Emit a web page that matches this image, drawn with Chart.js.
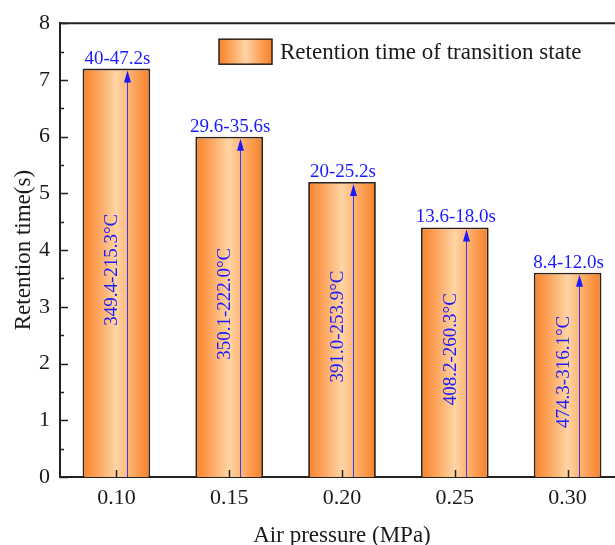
<!DOCTYPE html>
<html lang="en">
<head>
<meta charset="UTF-8">
<title>Retention time vs air pressure</title>
<script src="https://cdn.jsdelivr.net/npm/chart.js"></script>
<style>
  html, body { margin: 0; padding: 0; overflow: hidden; background: #fff; }
  canvas { display: block; }
</style>
</head>
<body>
<canvas id="chart" width="630" height="560" style="width:630px;height:560px"></canvas>
<script>
// Air pressure categories and measured retention time of the transition state
const pressures = ['0.10', '0.15', '0.20', '0.25', '0.30'];
const retention = [7.2, 6.0, 5.2, 4.4, 3.6];
const timeRanges = ['40-47.2s', '29.6-35.6s', '20-25.2s', '13.6-18.0s', '8.4-12.0s'];
const tempRanges = ['349.4-215.3°C', '350.1-222.0°C', '391.0-253.9°C', '408.2-260.3°C', '474.3-316.1°C'];
const seriesLabel = 'Retention time of transition state';

const SERIF = '"Liberation Serif", "Times New Roman", serif';
const INK = '#1a1a1a';
const BLUE = '#1a1aff';
const BAR_PCT = 0.6;

function barGradient(ctx, x0, x1) {
  const g = ctx.createLinearGradient(x0, 0, x1, 0);
  g.addColorStop(0, '#f7842c');
  g.addColorStop(0.18, '#fb9d52');
  g.addColorStop(0.5, '#ffd4a4');
  g.addColorStop(0.82, '#fb9c50');
  g.addColorStop(1, '#f6822a');
  return g;
}

// frame, inward ticks, arrows, range labels and legend
const overlay = {
  id: 'overlay',
  afterDraw(chart) {
    const { ctx, chartArea: a, scales: { x, y } } = chart;
    ctx.save();

    // top frame line
    ctx.strokeStyle = '#222';
    ctx.lineWidth = 2;
    ctx.beginPath();
    ctx.moveTo(a.left - 1, a.top);
    ctx.lineTo(a.right, a.top);
    ctx.stroke();

    // y ticks: major on integers, minor on halves, pointing inward
    ctx.lineWidth = 1.5;
    for (let v = y.min; v <= y.max; v += 0.5) {
      const py = Math.round(y.getPixelForValue(v)) + 0.5;
      const len = Number.isInteger(v) ? 8 : 4;
      ctx.beginPath();
      ctx.moveTo(a.left, py);
      ctx.lineTo(a.left + len, py);
      ctx.stroke();
    }
    // x ticks at category centres, pointing up
    pressures.forEach((_, i) => {
      const px = Math.round(x.getPixelForValue(i)) + 0.5;
      ctx.beginPath();
      ctx.moveTo(px, a.bottom);
      ctx.lineTo(px, a.bottom - 7);
      ctx.stroke();
    });

    const bars = chart.getDatasetMeta(0).data;
    bars.forEach((bar, i) => {
      // arrow from the base up to the bar top
      const ax = Math.round(bar.x + 11) + 0.5;
      const tip = bar.y + 2;
      ctx.strokeStyle = '#3a3ae8';
      ctx.fillStyle = BLUE;
      ctx.lineWidth = 1;
      ctx.beginPath();
      ctx.moveTo(ax, a.bottom);
      ctx.lineTo(ax, tip + 10);
      ctx.stroke();
      ctx.beginPath();
      ctx.moveTo(ax, tip);
      ctx.lineTo(ax - 3.5, tip + 12);
      ctx.lineTo(ax + 3.5, tip + 12);
      ctx.closePath();
      ctx.fill();

      // time range above the bar
      ctx.font = '19px ' + SERIF;
      ctx.textAlign = 'center';
      ctx.textBaseline = 'alphabetic';
      ctx.fillText(timeRanges[i], bar.x + 1, bar.y - 5);

      // temperature range, rotated, in the middle of the bar
      ctx.save();
      ctx.translate(bar.x - 4, (bar.y + a.bottom) / 2 - 3);
      ctx.rotate(-Math.PI / 2);
      ctx.textBaseline = 'middle';
      ctx.fillText(tempRanges[i], 0, 0);
      ctx.restore();
    });

    // legend
    const lx = a.left + 159, ly = a.top + 16, lw = 53, lh = 25;
    ctx.fillStyle = barGradient(ctx, lx, lx + lw);
    ctx.fillRect(lx, ly, lw, lh);
    ctx.strokeStyle = '#2e2018';
    ctx.lineWidth = 1.5;
    ctx.strokeRect(lx, ly, lw, lh);
    ctx.fillStyle = INK;
    ctx.font = '23px ' + SERIF;
    ctx.textAlign = 'left';
    ctx.textBaseline = 'middle';
    ctx.fillText(chart.data.datasets[0].label, lx + lw + 8, ly + lh / 2 + 1);

    ctx.restore();
  }
};

new Chart(document.getElementById('chart'), {
  type: 'bar',
  data: {
    labels: pressures,
    datasets: [{
      label: seriesLabel,
      data: retention,
      backgroundColor: (c) => {
        const chart = c.chart;
        const a = chart.chartArea;
        if (!a || c.dataIndex === undefined) return '#fb9d52';
        const cx = chart.scales.x.getPixelForValue(c.dataIndex);
        const half = (a.width / pressures.length) * BAR_PCT / 2;
        return barGradient(chart.ctx, cx - half, cx + half);
      },
      borderColor: '#2e2018',
      borderWidth: 1.8,
      barPercentage: BAR_PCT,
      categoryPercentage: 1.0
    }]
  },
  options: {
    responsive: false,
    animation: false,
    devicePixelRatio: 1,
    layout: { padding: { left: 0, top: 23, right: 6, bottom: 0 } },
    plugins: {
      legend: { display: false },
      tooltip: { enabled: false }
    },
    scales: {
      x: {
        z: 1,
        grid: { display: false, drawTicks: false },
        border: { display: true, color: '#222', width: 2 },
        ticks: { color: INK, padding: 8, font: { family: SERIF, size: 22 } },
        title: {
          display: true,
          text: 'Air pressure (MPa)',
          color: INK,
          padding: { top: 0, bottom: 10 },
          font: { family: SERIF, size: 23 }
        },
        afterFit: (s) => { s.height = 83; }
      },
      y: {
        z: 1,
        min: 0,
        max: 8,
        grid: { display: false, drawTicks: false },
        border: { display: true, color: '#222', width: 2 },
        ticks: { stepSize: 1, color: INK, padding: 10, font: { family: SERIF, size: 22 } },
        title: {
          display: true,
          text: 'Retention time(s)',
          color: INK,
          padding: { top: 10, bottom: 0 },
          font: { family: SERIF, size: 23 }
        },
        afterFit: (s) => { s.width = 60; }
      }
    }
  },
  plugins: [overlay]
});
</script>
</body>
</html>
